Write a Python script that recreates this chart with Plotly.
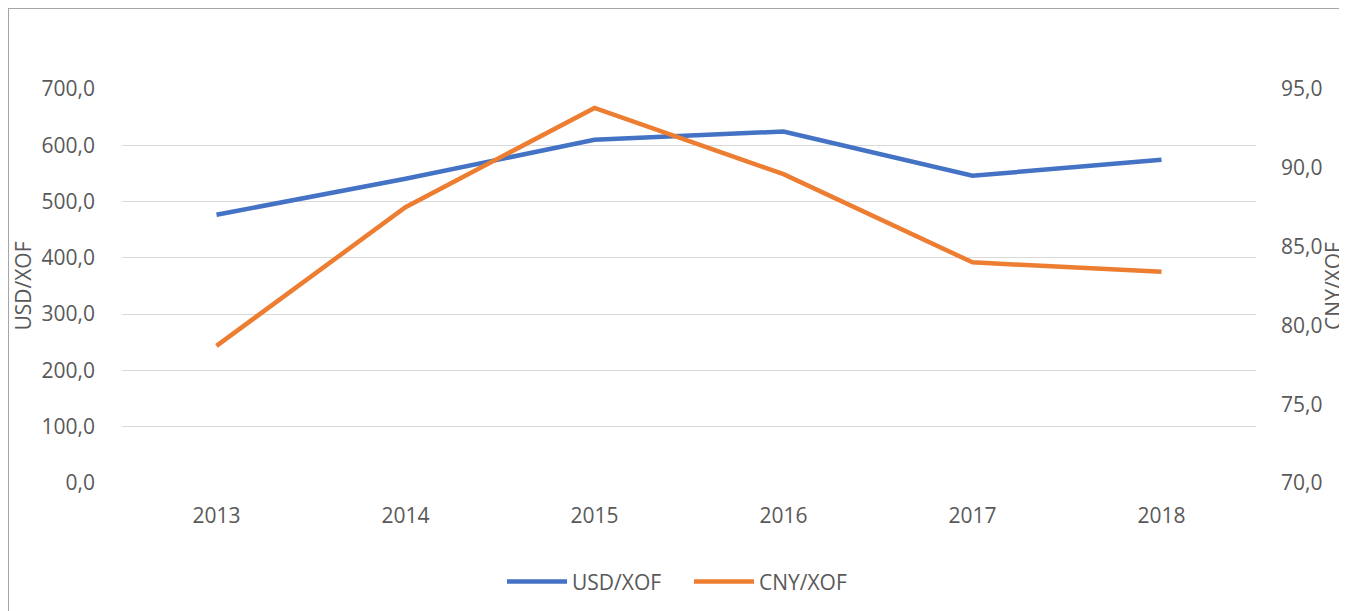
import plotly.graph_objects as go

years = ["2013", "2014", "2015", "2016", "2017", "2018"]
usd_xof = [476.6, 540.5, 609.8, 624.5, 545.8, 574.3]
cny_xof = [78.7, 87.5, 93.8, 89.6, 84.0, 83.4]

FONT = "Open Sans"
TXT = "#595959"

fig = go.Figure()
fig.add_trace(go.Scatter(x=years, y=usd_xof, name="USD/XOF", mode="lines",
                         line=dict(color="#4472C4", width=4.5)))
fig.add_trace(go.Scatter(x=years, y=cny_xof, name="CNY/XOF", mode="lines",
                         line=dict(color="#ED7D31", width=4.5), yaxis="y2"))

# page body has an 8px margin: the paper's top-left edge forms the chart border
fig.update_layout(
    width=1339, height=603,
    margin=dict(l=114, r=91, t=81, b=128, autoexpand=False),
    paper_bgcolor="white", plot_bgcolor="white",
    separators=",.",
    font=dict(family=FONT, size=21, color=TXT),
    showlegend=True,
    legend=dict(orientation="h", x=0.5, xanchor="center", y=-0.251, yanchor="middle",
                font=dict(size=21, color=TXT), itemwidth=60, entrywidth=112,
                tracegroupgap=0),
    xaxis=dict(type="category", range=[-0.5, 5.5], showgrid=False, showline=False,
               zeroline=False, ticks="", ticklabelstandoff=18, automargin=False,
               tickfont=dict(size=21, color=TXT)),
    yaxis=dict(range=[0, 700], dtick=100, tickformat=".1f", showgrid=True,
               gridcolor="#d9d9d9", gridwidth=1.3, zeroline=False, showline=False,
               ticks="", ticklabelstandoff=26, tickfont=dict(size=21, color=TXT),
               automargin=False,
               title=dict(text="USD/XOF", standoff=4, font=dict(size=21, color=TXT))),
    yaxis2=dict(range=[70, 95], dtick=5, tickformat=".1f", overlaying="y", side="right",
                showgrid=False, zeroline=False, showline=False, ticks="",
                ticklabelstandoff=24, tickfont=dict(size=21, color=TXT),
                automargin=False,
                title=dict(text="CNY/XOF", standoff=4, font=dict(size=21, color=TXT))),
    shapes=[
        dict(type="line", xref="paper", yref="paper", x0=-0.1005, x1=1.2, y0=1.2056, y1=1.2056,
             line=dict(color="#a6a6a6", width=2), layer="below"),
        dict(type="line", xref="paper", yref="paper", x0=-0.1005, x1=-0.1005, y0=-0.4, y1=1.2056,
             line=dict(color="#a6a6a6", width=2), layer="below"),
    ],
)

fig.write_html("out.html")
